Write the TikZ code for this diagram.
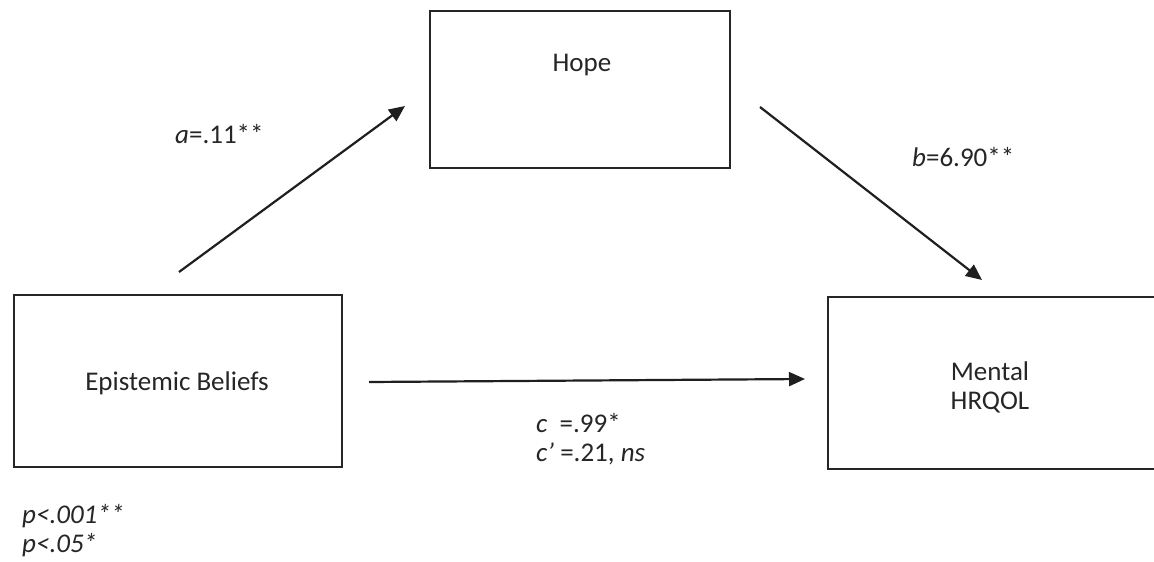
\documentclass[tikz,border=0pt]{standalone}
\usepackage{fontspec}
\setmainfont{Carlito}
\usetikzlibrary{arrows.meta,calc}
\begin{document}
\begin{tikzpicture}[x=1pt,y=-1pt,
  box/.style={draw=black!85,line width=2pt,minimum width=#1,inner sep=0pt,anchor=north west},
  conn/.style={draw=black!88,line width=2.2pt,-{Triangle[length=16pt,width=14pt]}},
  lbl/.style={font=\fontsize{27}{29}\selectfont,inner sep=0pt,text=black!85},
  every node/.append style={font=\fontsize{27}{29}\selectfont}]
\useasboundingbox (0,0) rectangle (1154,562);
\fill[white] (0,0) rectangle (1154,562);
% boxes
\node[box=300pt,minimum height=157pt] (hope) at (429,10) {};
\node[box=328pt,minimum height=172pt] (eb) at (13,294) {};
\node[box=327pt,minimum height=172pt] (mh) at (827,296) {};
% box texts
\node[lbl] (hopet) at (582,65) {Hope};
\node[lbl] (ebt) at (177,383) {Epistemic Beliefs};
\node[lbl,align=center] (mht) at (990,387) {Mental\\HRQOL};
% connector ends
\coordinate (a1) at (179,272);
\coordinate (a2) at (405,106);
\coordinate (b1) at (760,107);
\coordinate (b2) at (982,280);
\coordinate (c1) at (369,382);
\coordinate (c2) at (805,379);
\draw[conn] (a1) -- (a2);
\draw[conn] (b1) -- (b2);
\draw[conn] (c1) -- (c2);
% path labels
\node[lbl,anchor=west] (la) at (175,134) {\textit{a}=.11**};
\node[lbl,anchor=west] (lb) at (912,157) {\textit{b}=6.90**};
\node[lbl,anchor=west,align=left] (lc) at (536,439) {\textit{c}\ \ =.99*\\\textit{c’} =.21, \textit{ns}};
\node[lbl,anchor=west,align=left] (lp) at (22,531) {\textit{p<.001**}\\\textit{p<.05*}};
\end{tikzpicture}
\end{document}
